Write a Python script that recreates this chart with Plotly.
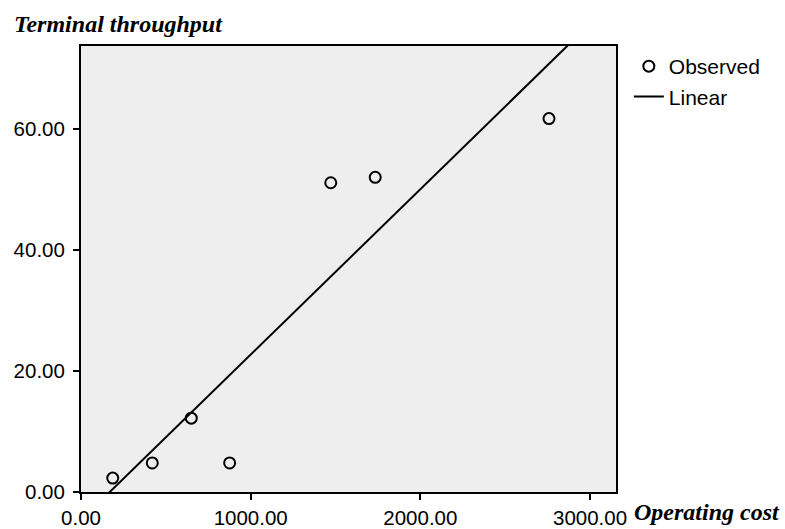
import numpy as np
import plotly.graph_objects as go

operating_cost = [187, 420, 650, 876, 1472, 1734, 2758]
terminal_throughput = [2.3, 4.8, 12.2, 4.8, 51.1, 52.0, 61.7]

x_tick_vals = [0, 1000, 2000, 3000]
x_tick_text = ["0.00", "1000.00", "2000.00", "3000.00"]
y_tick_vals = [0, 20, 40, 60]
y_tick_text = ["0.00", "20.00", "40.00", "60.00"]

x_range = [0, 3153]
y_range = [0, 73.7]

# Linear fit of the observed data
slope, intercept = np.polyfit(operating_cost, terminal_throughput, 1)
fit_x = np.array(x_range, dtype=float)
fit_y = slope * fit_x + intercept

fig = go.Figure()
fig.add_trace(go.Scatter(
    x=operating_cost, y=terminal_throughput, mode="markers", name="Observed",
    marker=dict(symbol="circle-open", size=11, color="black", line=dict(width=2, color="black")),
))
fig.add_trace(go.Scatter(
    x=fit_x, y=fit_y, mode="lines", name="Linear",
    line=dict(color="black", width=2),
))

axis_common = dict(
    showline=True, linecolor="black", linewidth=2, mirror=True,
    ticks="outside", ticklen=6, tickwidth=2, tickcolor="black",
    showgrid=False, zeroline=False,
    tickfont=dict(family="Liberation Sans, Arial", size=20.5, color="black"),
)

fig.update_layout(
    width=785, height=529,
    margin=dict(l=81, r=169, t=46, b=37, autoexpand=False),
    paper_bgcolor="white", plot_bgcolor="#eeeeee",
    xaxis=dict(range=x_range, tickvals=x_tick_vals, ticktext=x_tick_text,
               automargin=False, **axis_common),
    yaxis=dict(range=y_range, tickvals=y_tick_vals, ticktext=y_tick_text,
               automargin=False, ticklabelstandoff=4, **axis_common),
    legend=dict(x=1.024, y=1.0, xanchor="left", yanchor="top",
                font=dict(family="Liberation Sans, Arial", size=21, color="black"),
                bgcolor="rgba(0,0,0,0)", tracegroupgap=0, itemwidth=30),
    showlegend=True,
    annotations=[
        dict(text="<b><i>Terminal throughput</i></b>", xref="paper", yref="paper",
             x=-0.129, y=1.05, xanchor="left", yanchor="middle", showarrow=False,
             font=dict(family="Liberation Serif, Times New Roman", size=24, color="black")),
        dict(text="<b><i>Operating cost</i></b>", xref="paper", yref="paper",
             x=1.030, y=-0.045, xanchor="left", yanchor="middle", showarrow=False,
             font=dict(family="Liberation Serif, Times New Roman", size=24, color="black")),
    ],
)

fig.write_html(
    "out.html",
    config={"displayModeBar": False},
    post_script="document.body.style.margin='0';document.body.style.overflow='hidden';",
)
